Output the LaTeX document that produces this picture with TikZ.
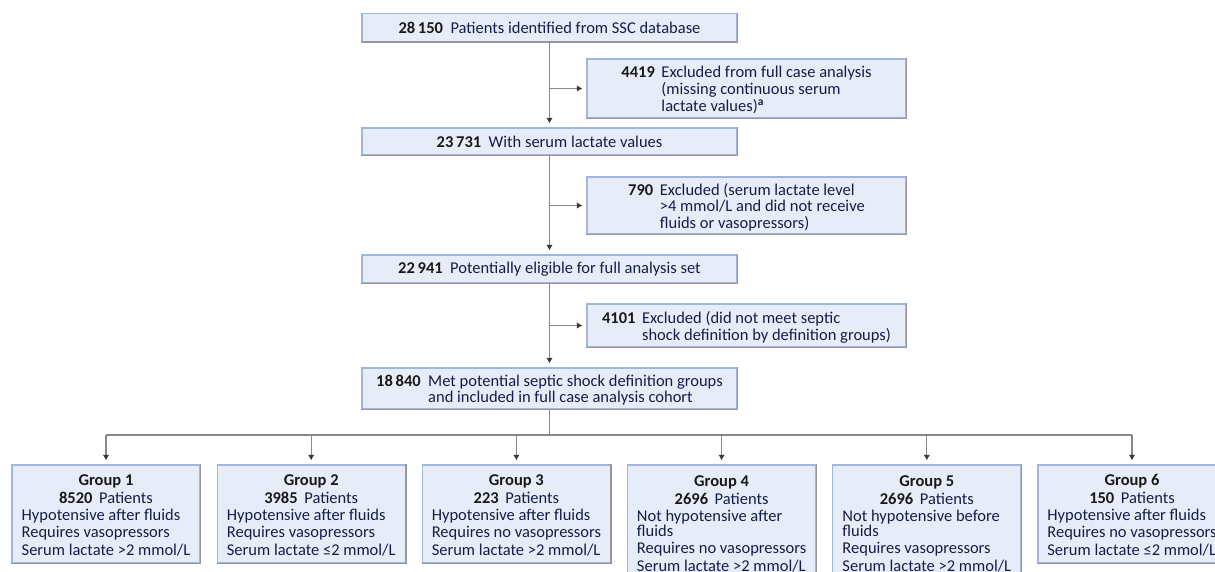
\documentclass[tikz,border=0pt]{standalone}
\usepackage{fontspec}
\setmainfont{Carlito}
\usetikzlibrary{arrows.meta}

\definecolor{navy}{RGB}{22,28,74}
\definecolor{boxfill}{RGB}{231,237,248}
\definecolor{edgeblue}{RGB}{160,182,222}
\definecolor{edgegray}{RGB}{150,150,156}
\definecolor{linegray}{RGB}{135,135,135}
\definecolor{tipgray}{RGB}{55,55,60}

% bold counts and headings in near-black
\newcommand{\cnt}[1]{\textbf{\color{black!90}#1}}
% taller first row, so the text block sits a little lower in its box
\newcommand{\toprow}{\rule{0pt}{17pt}}
\newcommand{\gtoprow}{\rule{0pt}{18pt}}

\begin{document}
\begin{tikzpicture}[x=1pt,y=-1pt,
  every node/.style={font=\fontsize{16.5}{15.5}\selectfont},
  rim/.style={draw=edgegray, line width=1.3pt},
  box/.style={draw=edgeblue, fill=boxfill, line width=1.3pt, inner sep=0pt, text=navy,
    append after command={(\tikzlastnode.north east) edge[rim] (\tikzlastnode.south east)
                          (\tikzlastnode.south east) edge[rim] (\tikzlastnode.south west)}},
  mainbox/.style={box, minimum width=375pt},
  exclbox/.style={box, minimum width=319pt},
  groupbox/.style={box, minimum width=188pt, minimum height=98pt,
    font=\fontsize{16.5}{17.3}\selectfont},
  link/.style={draw=linegray, line width=1.2pt},
  arrow/.style={link, -{Latex[length=5.5pt,width=6.5pt,color=tipgray]}, shorten >=4pt},
]
\path[use as bounding box] (0,0) rectangle (1215,572);
\clip (0,0) rectangle (1215,572);
\fill[white] (0,0) rectangle (1215,572);

% main flow
\node[mainbox, minimum height=28pt] (n1) at (549.5,27.5)
  {\cnt{28\,150}\hspace{.45em}Patients identified from SSC database};
\node[mainbox, minimum height=27pt] (n2) at (549.5,141.5)
  {\cnt{23\,731}\hspace{.45em}With serum lactate values};
\node[mainbox, minimum height=28pt] (n3) at (549.5,269)
  {\cnt{22\,941}\hspace{.45em}Potentially eligible for full analysis set};
\node[mainbox, minimum height=41pt] (n4) at (549.5,388.5)
  {\begin{tabular}{@{}r@{\hspace{.45em}}l@{}}
    \toprow\cnt{18\,840} & Met potential septic shock definition groups\\[-0.5pt]
                  & and included in full case analysis cohort
   \end{tabular}};

% exclusions
\node[exclbox, minimum height=59pt] (x1) at (746.5,88.5)
  {\begin{tabular}{@{}r@{\hspace{.4em}}l@{}}
    \toprow\cnt{4419} & Excluded from full case analysis\\
               & (missing continuous serum\\
               & lactate values)\textsuperscript{\textbf{a}}
   \end{tabular}};
\node[exclbox, minimum height=57pt] (x2) at (746.5,205.5)
  {\begin{tabular}{@{}r@{\hspace{.4em}}l@{}}
    \toprow\cnt{790} & Excluded (serum lactate level\\
              & >4 mmol/L and did not receive\\
              & fluids or vasopressors)
   \end{tabular}};
\node[exclbox, minimum height=43pt] (x3) at (746.5,325.5)
  {\begin{tabular}{@{}r@{\hspace{.4em}}l@{}}
    \toprow\cnt{4101} & Excluded (did not meet septic\\
               & shock definition by definition groups)
   \end{tabular}};

% definition groups
\node[groupbox] (g1) at (106,514)
  {\begin{tabular}{@{}l@{}}
    \multicolumn{1}{@{}c@{}}{\gtoprow\cnt{Group 1}}\\
    \multicolumn{1}{@{}c@{}}{\cnt{8520}\hspace{.4em}Patients}\\
    Hypotensive after fluids\\
    Requires vasopressors\\
    Serum lactate >2 mmol/L
   \end{tabular}};
\node[groupbox] (g2) at (311.2,514)
  {\begin{tabular}{@{}l@{}}
    \multicolumn{1}{@{}c@{}}{\gtoprow\cnt{Group 2}}\\
    \multicolumn{1}{@{}c@{}}{\cnt{3985}\hspace{.4em}Patients}\\
    Hypotensive after fluids\\
    Requires vasopressors\\
    Serum lactate ≤2 mmol/L
   \end{tabular}};
\node[groupbox] (g3) at (516.4,514)
  {\begin{tabular}{@{}l@{}}
    \multicolumn{1}{@{}c@{}}{\gtoprow\cnt{Group 3}}\\
    \multicolumn{1}{@{}c@{}}{\cnt{223}\hspace{.4em}Patients}\\
    Hypotensive after fluids\\
    Requires no vasopressors\\
    Serum lactate >2 mmol/L
   \end{tabular}};
\node[groupbox, minimum height=117pt] (g4) at (721.6,523.5)
  {\begin{tabular}{@{}l@{}}
    \multicolumn{1}{@{}c@{}}{\rule{0pt}{16pt}\cnt{Group 4}}\\
    \multicolumn{1}{@{}c@{}}{\cnt{2696}\hspace{.4em}Patients}\\
    Not hypotensive after\\[-2.3pt]
    fluids\\
    Requires no vasopressors\\
    Serum lactate >2 mmol/L
   \end{tabular}};
\node[groupbox, minimum height=117pt] (g5) at (926.8,523.5)
  {\begin{tabular}{@{}l@{}}
    \multicolumn{1}{@{}c@{}}{\rule{0pt}{16pt}\cnt{Group 5}}\\
    \multicolumn{1}{@{}c@{}}{\cnt{2696}\hspace{.4em}Patients}\\
    Not hypotensive before\\[-2.3pt]
    fluids\\
    Requires vasopressors\\
    Serum lactate >2 mmol/L
   \end{tabular}};
\node[groupbox] (g6) at (1132,514)
  {\begin{tabular}{@{}l@{}}
    \multicolumn{1}{@{}c@{}}{\gtoprow\cnt{Group 6}}\\
    \multicolumn{1}{@{}c@{}}{\cnt{150}\hspace{.4em}Patients}\\
    Hypotensive after fluids\\
    Requires no vasopressors\\
    Serum lactate ≤2 mmol/L
   \end{tabular}};

% connectors along the main spine
\draw[arrow] (n1.south) -- (n2.north);
\draw[arrow] (n2.south) -- (n3.north);
\draw[arrow] (n3.south) -- (n4.north);
\draw[arrow] (n1.south |- x1.west) -- (x1.west);
\draw[arrow] (n2.south |- x2.west) -- (x2.west);
\draw[arrow] (n3.south |- x3.west) -- (x3.west);

% distribution bus to the six groups
\coordinate (bus) at (549.5,435);
\draw[link] (n4.south) -- (bus);
\draw[link] (g1.north |- bus) -- (g6.north |- bus);
\foreach \g in {g1,g2,g3,g4,g5,g6}
  \draw[arrow] (\g.north |- bus) -- (\g.north);
\end{tikzpicture}
\end{document}
